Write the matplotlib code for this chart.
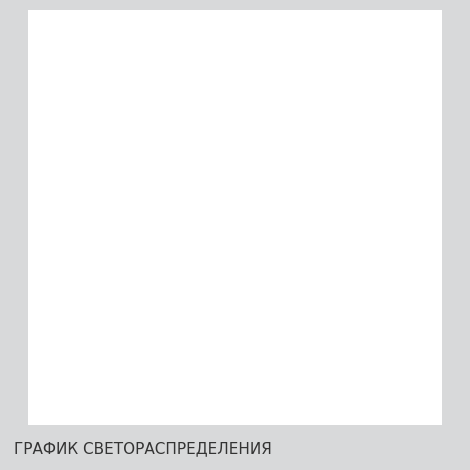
import numpy as np
import matplotlib
matplotlib.use("Agg")
import matplotlib.pyplot as plt
from matplotlib.patches import Rectangle

ring_labels = ["181,66", "363,32", "544,98", "726,64", "908,3", "1089,96"]
ring_values = [181.66, 363.32, 544.98, 726.64, 908.3, 1089.96]
blue_deg = [0, 5, 10, 15, 20, 25, 30, 35, 40, 45, 50, 55, 60, 65, 70, 75, 80, 85, 90]
blue_val = [890, 888, 880, 865, 845, 815, 775, 715, 645, 570, 495, 420, 345, 270, 200, 140, 90, 45, 0]
red_deg = [0, 5, 10, 15, 20, 25, 30, 35, 40, 45, 50, 55, 60, 65, 70, 75, 80, 85, 90]
red_val = [902, 915, 954, 1020, 1080, 1090, 1070, 940, 760, 560, 410, 300, 230, 170, 120, 80, 50, 25, 0]
title = "ГРАФИК СВЕТОРАСПРЕДЕЛЕНИЯ"

def sym(d, v):
    d = np.array(d, float); v = np.array(v, float)
    dd = np.concatenate([-d[::-1], d[1:]])
    vv = np.concatenate([v[::-1], v[1:]])
    return np.deg2rad(dd), vv

frame = "#d8d9da"
fig = plt.figure(figsize=(4.7, 4.7), dpi=100, facecolor=frame)
fig.patches.append(Rectangle((28 / 470, 45 / 470), 414 / 470, 415 / 470,
                             transform=fig.transFigure, facecolor="white", edgecolor="none", zorder=0))
R = 183
ax = fig.add_axes([(235 - R) / 470, (470 - 216 - R) / 470, 2 * R / 470, 2 * R / 470], projection="polar")
ax.set_facecolor("none")
rmax = 1089.96
ax.set_ylim(0, rmax)
ax.spines["polar"].set_color("#bdbdbd")
ax.set_xticks(np.deg2rad(np.arange(0, 360, 10)))
ax.set_xticklabels([str(a) for a in range(0, 360, 10)], fontsize=7.5, color="#333333")
ax.tick_params(axis="x", pad=0)
ax.set_yticks(ring_values)
ax.set_yticklabels([])
ax.tick_params(axis="y", length=0)
ax.grid(True, color="#c4c4c4", lw=0.9)

for th in [0, np.pi / 2, np.pi, 3 * np.pi / 2]:
    ax.plot([th, th], [0, rmax], color="#222222", lw=1.1, zorder=3)
    for r in ring_values:
        ax.plot([th], [r], marker="|" if th in (0, np.pi) else "_", color="#222222", ms=6, mew=1.1, zorder=3)

for d, v, c, z in [(blue_deg, blue_val, "#1f4fa0", 4), (red_deg, red_val, "#e0202a", 5)]:
    t, vv = sym(d, v)
    ln, = ax.plot(t, vv, color=c, lw=2.2, zorder=z)
    ln.get_path()._interpolation_steps = 30

for r, lab in zip(ring_values, ring_labels):
    ax.annotate(lab, (0, r), xytext=(-15, -3), textcoords="offset points", ha="center", va="top",
                fontsize=6.5, fontweight="bold", color="#222222", zorder=6, annotation_clip=False,
                family=["Liberation Sans Narrow", "DejaVu Sans"])

fig.text(0.03, 0.045, title, fontsize=11, color="#333333", va="center", ha="left")
fig.savefig("out.png", dpi=100, facecolor=frame)
